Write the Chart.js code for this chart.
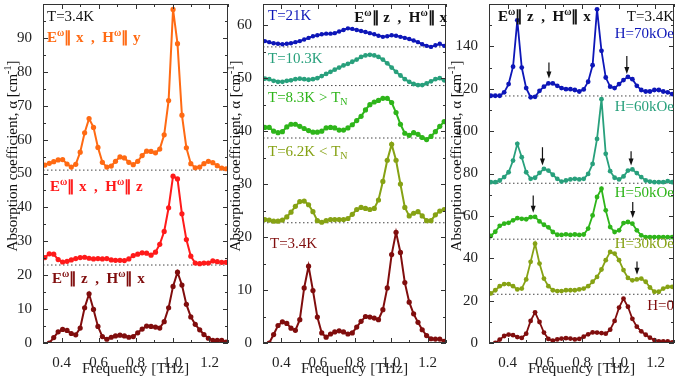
<!DOCTYPE html>
<html>
<head>
<meta charset="utf-8">
<script src="https://cdn.jsdelivr.net/npm/chart.js@4.4.1/dist/chart.umd.min.js"></script>
<style>
html, body { margin: 0; padding: 0; background: #fff; }
#wrap { position: relative; width: 678px; height: 381px; overflow: hidden; }
#wrap canvas { position: absolute; top: 0; }
</style>
</head>
<body>
<div id="wrap">
  <canvas id="c1" width="232" height="381" style="left:0px;width:232px;height:381px"></canvas>
  <canvas id="c2" width="227" height="381" style="left:223px;width:227px;height:381px"></canvas>
  <canvas id="c3" width="234" height="381" style="left:444px;width:234px;height:381px"></canvas>
</div>
<script>
// frequency grid [THz]
const freq = [0.310, 0.334, 0.358, 0.382, 0.406, 0.430, 0.453, 0.477, 0.501, 0.525,
              0.549, 0.573, 0.597, 0.621, 0.645, 0.669, 0.692, 0.716, 0.740, 0.764,
              0.788, 0.812, 0.836, 0.860, 0.884, 0.908, 0.931, 0.955, 0.979, 1.003,
              1.027, 1.051, 1.075, 1.099, 1.123, 1.147, 1.170, 1.194, 1.218, 1.242,
              1.266, 1.290];

// E||z, H||x, T=3.4K, H=0 (same spectrum in all three panels)
const ezhx_34K = [-1.2, 0.0, 1.6, 3.3, 4.0, 3.7, 2.8, 2.4, 4.4, 10.4,
                  14.5, 9.9, 4.9, 1.9, 1.1, 1.7, 2.1, 2.3, 2.1, 1.7,
                  1.9, 3.0, 4.1, 5.0, 4.9, 4.7, 4.4, 6.3, 10.4, 16.7,
                  20.9, 17.1, 11.4, 7.7, 5.5, 3.9, 2.5, 1.4, 0.8, 0.75,
                  0.75, 0.3];
// panel 1
const exhy_34K = [52.5, 53.0, 53.5, 54.0, 54.1, 52.8, 51.9, 52.7, 56.3, 62.0,
                  66.2, 63.6, 57.7, 53.3, 51.9, 52.2, 53.6, 54.9, 54.6, 53.3,
                  52.6, 53.6, 55.3, 56.6, 56.5, 56.1, 57.2, 61.4, 71.5, 98.4,
                  88.3, 67.2, 57.6, 52.9, 51.7, 51.9, 52.9, 53.6, 53.2, 52.3,
                  51.6, 51.4];
const exhz_34K = [25.2, 26.3, 26.2, 24.6, 23.9, 24.1, 24.5, 24.9, 25.2, 25.3,
                  25.0, 24.8, 24.9, 24.8, 24.9, 24.5, 24.4, 24.4, 24.3, 24.8,
                  25.8, 26.2, 26.6, 26.5, 25.9, 26.8, 29.1, 32.9, 39.9, 49.2,
                  48.4, 38.1, 30.5, 25.6, 23.6, 23.4, 23.6, 23.6, 24.2, 24.0,
                  23.8, 23.8];
// panel 2: temperature dependence
const t21K = [57.0, 56.8, 56.6, 56.5, 56.4, 56.5, 56.6, 56.8, 57.0, 57.3,
              57.6, 57.9, 58.1, 58.3, 58.4, 58.4, 58.5, 58.8, 59.1, 59.4,
              59.3, 59.1, 58.9, 58.7, 58.5, 58.3, 58.0, 57.8, 57.9, 58.1,
              58.0, 57.8, 57.6, 57.4, 57.1, 56.8, 56.4, 56.1, 55.9, 56.2,
              56.5, 56.1];
const t10K = [49.9, 49.8, 49.5, 49.3, 49.3, 49.5, 49.6, 49.8, 49.9, 49.8,
              49.7, 49.8, 50.0, 50.4, 50.8, 51.2, 51.6, 52.0, 52.4, 52.7,
              53.1, 53.5, 54.0, 54.3, 54.4, 54.3, 54.0, 53.5, 52.8, 52.0,
              51.2, 50.5, 49.8, 49.3, 48.9, 48.7, 48.7, 49.0, 49.4, 49.8,
              50.0, 49.6];
const t83K = [40.7, 40.7, 40.0, 39.7, 39.9, 40.8, 41.3, 41.3, 40.9, 40.5,
              40.1, 39.8, 39.8, 40.0, 40.6, 40.7, 40.6, 40.2, 40.2, 40.6,
              41.2, 42.0, 42.8, 44.0, 45.0, 45.5, 45.8, 46.2, 46.2, 45.4,
              43.5, 41.3, 39.6, 39.2, 39.7, 39.4, 38.8, 38.4, 39.0, 39.9,
              40.9, 41.8];
const t62K = [23.3, 23.2, 23.0, 23.0, 23.2, 23.8, 24.7, 25.8, 26.7, 26.8,
              26.1, 24.8, 23.1, 22.8, 23.1, 23.3, 23.3, 23.3, 23.3, 23.5,
              24.3, 25.2, 25.6, 25.4, 25.2, 25.4, 27.0, 30.5, 34.5, 37.5,
              34.5, 30.0, 25.6, 24.0, 24.5, 24.8, 24.0, 23.1, 23.1, 24.2,
              24.9, 25.2];
// panel 3: field dependence
const h70 = [116.7, 116.7, 116.7, 118.3, 122.2, 130.4, 152.3, 130.0, 120.3, 116.0,
             116.2, 119.0, 121.0, 122.5, 122.5, 121.4, 120.3, 119.8, 119.8, 119.4,
             118.7, 119.7, 123.3, 131.1, 157.5, 137.9, 125.3, 121.0, 120.3, 122.2,
             124.1, 125.6, 124.5, 121.4, 119.4, 118.7, 118.7, 119.4, 119.4, 118.7,
             118.3, 117.5];
const h60 = [75.9, 75.9, 76.7, 78.3, 80.6, 86.1, 94.0, 87.7, 80.6, 77.5,
             78.0, 80.3, 82.2, 81.4, 79.4, 77.5, 76.2, 76.7, 77.2, 77.5,
             77.2, 77.5, 79.8, 84.5, 96.3, 115.1, 89.3, 81.1, 78.0, 77.2,
             78.6, 81.4, 81.9, 80.2, 78.3, 76.7, 76.2, 75.9, 75.9, 75.9,
             76.4, 75.9];
const h50 = [50.5, 52.5, 55.3, 56.3, 56.7, 57.9, 58.9, 58.6, 58.4, 59.4,
             59.5, 57.4, 55.8, 54.6, 52.4, 51.1, 51.0, 51.3, 51.0, 51.2,
             51.0, 51.2, 54.0, 60.2, 68.9, 72.8, 62.6, 54.7, 52.4, 53.2,
             56.6, 57.1, 56.3, 53.2, 50.8, 50.0, 50.0, 50.0, 50.0, 50.0,
             50.0, 50.0];
const h30 = [23.4, 24.9, 26.8, 27.8, 27.8, 26.8, 25.3, 25.7, 30.0, 38.3,
             46.9, 37.5, 30.4, 26.8, 24.9, 24.5, 24.5, 24.9, 24.9, 24.9,
             25.3, 25.7, 26.8, 28.9, 31.2, 34.7, 39.1, 43.0, 42.2, 39.1,
             34.4, 30.7, 29.6, 30.0, 30.4, 28.9, 26.2, 24.2, 24.2, 25.7,
             26.5, 26.5];

// dotted zero lines of the shifted spectra
const base1 = [51.0, 23.0];
const base2 = [55.9, 48.6, 38.7, 22.7];
const base3 = [116.6, 75.4, 49.0, 23.0];

// arrows in panel 3: [freq, from, to]
const arrows3 = [[0.624, 132.4, 124.8], [1.045, 135.5, 127.0],
                 [0.589, 92.4, 83.8], [1.068, 90.5, 83.8],
                 [0.539, 69.6, 61.5], [1.077, 66.5, 59.0],
                 [1.100, 38.5, 32.2]];

// ticks
const xTicks = [0.3, 0.4, 0.5, 0.6, 0.7, 0.8, 0.9, 1.0, 1.1, 1.2, 1.3];
const xLabels = [0.4, 0.6, 0.8, 1.0, 1.2];
const yTicks1 = [0, 5, 10, 15, 20, 25, 30, 35, 40, 45, 50, 55, 60, 65, 70, 75, 80, 85, 90, 95, 100];
const yLabels1 = [0, 10, 20, 30, 40, 50, 60, 70, 80, 90];
const yTicks2 = [0, 5, 10, 15, 20, 25, 30, 35, 40, 45, 50, 55, 60];
const yLabels2 = [0, 10, 20, 30, 40, 50, 60];
const yTicks3 = [0, 10, 20, 30, 40, 50, 60, 70, 80, 90, 100, 110, 120, 130, 140, 150, 160];
const yLabels3 = [0, 20, 40, 60, 80, 100, 120, 140];

const C = {
    orange: '#ff6a13', red: '#ff1a1a', darkred: '#800d0d', blue: '#0d16b8',
    teal: '#28a07c', green: '#2eb51a', olive: '#86a214', black: '#111'
};
const FONT = '"Liberation Serif", "Times New Roman", serif';

function drawRich(ctx, x, y, parts, o) {
    const size = o.size || 15, w = o.bold ? 'bold ' : '';
    const sz = p => p[1] === 'n' ? size : Math.round(size * 0.68);
    let total = 0;
    parts.forEach(p => { ctx.font = w + sz(p) + 'px ' + FONT; total += ctx.measureText(p[0]).width; });
    let cx = o.align === 'right' ? x - total : (o.align === 'center' ? x - total / 2 : x);
    ctx.fillStyle = o.color;
    ctx.textAlign = 'left';
    ctx.textBaseline = 'alphabetic';
    parts.forEach(p => {
        ctx.font = w + sz(p) + 'px ' + FONT;
        const dy = p[1] === 'sup' ? -size * 0.4 : (p[1] === 'sub' ? size * 0.22 : 0);
        ctx.fillText(p[0], cx, y + dy);
        cx += ctx.measureText(p[0]).width;
    });
}

const pol = (e, h) => [['E', 'n'], ['ω', 'sup'], ['∥ ' + e + '  ,  ', 'n'], ['H', 'n'], ['ω', 'sup'], ['∥ ' + h, 'n']];
const yTitle = [['Absorption coefficient, α [cm', 'n'], ['-1', 'sup'], [']', 'n']];

function makePanel(id, cfg) {
    const ds = [];
    cfg.baselines.forEach(b => ds.push({
        data: [{ x: 0.3, y: b }, { x: 1.3, y: b }],
        borderColor: '#444', borderWidth: 1, borderDash: [1.5, 2.5],
        pointRadius: 0, order: 10
    }));
    cfg.series.forEach(s => ds.push({
        data: freq.map((f, i) => ({ x: f, y: s.values[i] })),
        borderColor: s.color, backgroundColor: s.color,
        borderWidth: cfg.lw, pointRadius: s.pr || cfg.pr, pointBorderWidth: 0,
        tension: 0, order: 1
    }));

    const panelPlugin = {
        id: 'panel',
        afterDraw(chart) {
            const ctx = chart.ctx;
            const { left, right, top, bottom } = chart.chartArea;
            const xs = chart.scales.x, ys = chart.scales.y;
            ctx.save();
            // arrows
            (cfg.arrows || []).forEach(a => {
                const px = xs.getPixelForValue(a[0]);
                const y0 = ys.getPixelForValue(a[1]), y1 = ys.getPixelForValue(a[2]);
                ctx.strokeStyle = '#111'; ctx.fillStyle = '#111'; ctx.lineWidth = 1.2;
                ctx.beginPath(); ctx.moveTo(px, y0); ctx.lineTo(px, y1 - 6); ctx.stroke();
                ctx.beginPath(); ctx.moveTo(px - 2.5, y1 - 7); ctx.lineTo(px + 2.5, y1 - 7); ctx.lineTo(px, y1); ctx.closePath(); ctx.fill();
            });
            // frame
            ctx.strokeStyle = '#333'; ctx.lineWidth = 1;
            ctx.strokeRect(left + 0.5, top + 0.5, right - left - 1, bottom - top - 1);
            // inward ticks on all four sides
            ctx.beginPath();
            xTicks.forEach(v => {
                const px = Math.round(xs.getPixelForValue(v)) + 0.5;
                const len = xLabels.includes(v) ? 5 : 3;
                ctx.moveTo(px, bottom); ctx.lineTo(px, bottom - len);
                ctx.moveTo(px, top); ctx.lineTo(px, top + len);
            });
            cfg.yTicks.forEach(v => {
                const py = Math.round(ys.getPixelForValue(v)) + 0.5;
                const len = cfg.yLabels.includes(v) ? 5 : 3;
                ctx.moveTo(left, py); ctx.lineTo(left + len, py);
                ctx.moveTo(right, py); ctx.lineTo(right - len, py);
            });
            ctx.stroke();
            // labels
            cfg.texts.forEach(t => drawRich(ctx, t.x, t.y, t.parts, t));
            // y title
            ctx.translate(12, 156);
            ctx.rotate(-Math.PI / 2);
            drawRich(ctx, 0, 5, yTitle, { align: 'center', color: C.black, size: 15 });
            ctx.restore();
        }
    };

    return new Chart(document.getElementById(id), {
        type: 'line',
        data: { datasets: ds },
        options: {
            responsive: false,
            animation: false,
            devicePixelRatio: 1,
            layout: { padding: { top: 3, right: cfg.padRight, left: 0, bottom: 0 } },
            plugins: { legend: { display: false }, tooltip: { enabled: false } },
            scales: {
                x: {
                    type: 'linear', min: 0.3, max: 1.3,
                    grid: { display: false }, border: { display: false },
                    afterBuildTicks: s => { s.ticks = xTicks.map(v => ({ value: v })); },
                    afterFit: s => { s.height = 38; s.paddingLeft = 0; s.paddingRight = 0; },
                    ticks: {
                        autoSkip: false, maxRotation: 0, padding: 3, color: '#222',
                        font: { family: FONT, size: 15 },
                        callback: v => xLabels.includes(v) ? v.toFixed(1) : ''
                    },
                    title: {
                        display: true, text: 'Frequency [THz]', color: '#222',
                        font: { family: FONT, size: 15.5 }, padding: { top: 0, bottom: 3 }
                    }
                },
                y: {
                    type: 'linear', min: 0, max: cfg.yMax,
                    grid: { display: false }, border: { display: false },
                    afterBuildTicks: s => { s.ticks = cfg.yTicks.map(v => ({ value: v })); },
                    afterFit: s => { s.width = cfg.yWidth; s.paddingTop = 0; s.paddingBottom = 0; },
                    ticks: {
                        autoSkip: false, padding: 3, color: '#222',
                        font: { family: FONT, size: 15 },
                        callback: v => cfg.yLabels.includes(v) ? String(v) : ''
                    }
                }
            }
        },
        plugins: [panelPlugin]
    });
}

// Panel 1: polarization dependence at 3.4 K
makePanel('c1', {
    yMax: 100, yTicks: yTicks1, yLabels: yLabels1, yWidth: 43, padRight: 3, lw: 2, pr: 2.6,
    baselines: base1,
    series: [
        { values: exhy_34K, color: C.orange },
        { values: exhz_34K, color: C.red },
        { values: ezhx_34K, color: C.darkred }
    ],
    texts: [
        { x: 47, y: 21, parts: [['T=3.4K', 'n']], color: C.black },
        { x: 47, y: 42, parts: pol('x', 'y'), color: C.orange, bold: true },
        { x: 50, y: 191, parts: pol('x', 'z'), color: C.red, bold: true },
        { x: 52, y: 283, parts: pol('z', 'x'), color: C.darkred, bold: true }
    ]
});

// Panel 2: temperature dependence
makePanel('c2', {
    yMax: 64, yTicks: yTicks2, yLabels: yLabels2, yWidth: 40, padRight: 2, lw: 2, pr: 2.6,
    baselines: base2,
    series: [
        { values: t21K, color: C.blue, pr: 2.2 },
        { values: t10K, color: C.teal, pr: 2.4 },
        { values: t83K, color: C.green },
        { values: t62K, color: C.olive },
        { values: ezhx_34K, color: C.darkred }
    ],
    texts: [
        { x: 45, y: 20, parts: [['T=21K', 'n']], color: C.blue },
        { x: 224, y: 22, parts: pol('z', 'x'), color: C.black, bold: true, align: 'right' },
        { x: 45, y: 63, parts: [['T=10.3K', 'n']], color: C.teal },
        { x: 45, y: 102, parts: [['T=8.3K > T', 'n'], ['N', 'sub']], color: C.green },
        { x: 45, y: 156, parts: [['T=6.2K < T', 'n'], ['N', 'sub']], color: C.olive },
        { x: 47, y: 248, parts: [['T=3.4K', 'n']], color: C.darkred }
    ]
});

// Panel 3: field dependence at 3.4 K
makePanel('c3', {
    yMax: 160, yTicks: yTicks3, yLabels: yLabels3, yWidth: 45, padRight: 1, lw: 1.8, pr: 2.4,
    baselines: base3,
    arrows: arrows3,
    series: [
        { values: h70, color: C.blue },
        { values: h60, color: C.teal },
        { values: h50, color: C.green },
        { values: h30, color: C.olive },
        { values: ezhx_34K, color: C.darkred }
    ],
    texts: [
        { x: 54, y: 21, parts: pol('z', 'x'), color: C.black, bold: true },
        { x: 230, y: 21, parts: [['T=3.4K', 'n']], color: C.black, align: 'right' },
        { x: 230, y: 38, parts: [['H=70kOe', 'n']], color: C.blue, align: 'right' },
        { x: 230, y: 111, parts: [['H=60kOe', 'n']], color: C.teal, align: 'right' },
        { x: 230, y: 197, parts: [['H=50kOe', 'n']], color: C.green, align: 'right' },
        { x: 230, y: 248, parts: [['H=30kOe', 'n']], color: C.olive, align: 'right' },
        { x: 230, y: 310, parts: [['H=0', 'n']], color: C.darkred, align: 'right' }
    ]
});
</script>
</body>
</html>
